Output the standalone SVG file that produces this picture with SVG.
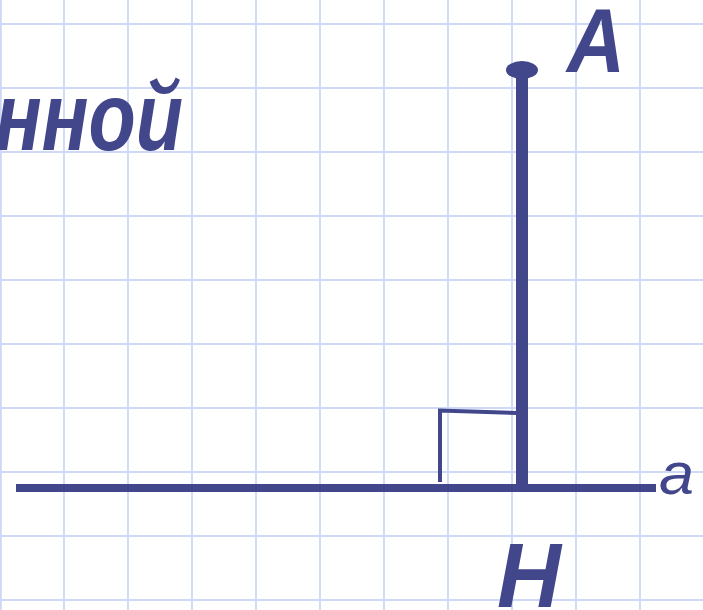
<svg xmlns="http://www.w3.org/2000/svg" width="703" height="610" viewBox="0 0 703 610">
<style>
.grid line{stroke:#cdd9f6;stroke-width:1.8}
.ink{fill:#42468a}
.lbl{font-family:"Liberation Sans",Arial,sans-serif;fill:#42468a}
</style>
<rect width="703" height="610" fill="#ffffff"/>
<g class="grid">
<line x1="0.9" y1="0" x2="0.9" y2="610"/>
<line x1="64" y1="0" x2="64" y2="610"/>
<line x1="128" y1="0" x2="128" y2="610"/>
<line x1="192" y1="0" x2="192" y2="610"/>
<line x1="256" y1="0" x2="256" y2="610"/>
<line x1="320" y1="0" x2="320" y2="610"/>
<line x1="384" y1="0" x2="384" y2="610"/>
<line x1="448" y1="0" x2="448" y2="610"/>
<line x1="512" y1="0" x2="512" y2="610"/>
<line x1="576" y1="0" x2="576" y2="610"/>
<line x1="640" y1="0" x2="640" y2="610"/>
<line x1="0" y1="24" x2="703" y2="24"/>
<line x1="0" y1="88" x2="703" y2="88"/>
<line x1="0" y1="152" x2="703" y2="152"/>
<line x1="0" y1="216" x2="703" y2="216"/>
<line x1="0" y1="280" x2="703" y2="280"/>
<line x1="0" y1="344" x2="703" y2="344"/>
<line x1="0" y1="408" x2="703" y2="408"/>
<line x1="0" y1="472" x2="703" y2="472"/>
<line x1="0" y1="536" x2="703" y2="536"/>
<line x1="0" y1="600" x2="703" y2="600"/>
</g>
<g id="title">
<text class="lbl" x="183" y="150" font-size="96" font-weight="bold" font-style="italic" text-anchor="end" textLength="188" lengthAdjust="spacingAndGlyphs">нной</text>
</g>
<g id="connectors">
<line id="line-a" x1="16" y1="488" x2="656" y2="488" stroke="#42468a" stroke-width="8"/>
<line id="perp" x1="522" y1="70" x2="522" y2="488" stroke="#42468a" stroke-width="12"/>
<polyline id="right-angle" points="440,482 440,410.5 518,413" fill="none" stroke="#42468a" stroke-width="4"/>
</g>
<g id="point-A">
<ellipse class="ink" cx="522" cy="70" rx="16" ry="9"/>
<text class="lbl" x="567" y="72" font-size="90" font-weight="bold" font-style="italic" textLength="58" lengthAdjust="spacingAndGlyphs">A</text>
</g>
<g id="point-H">
<text class="lbl" x="497" y="607" font-size="90" font-weight="bold" font-style="italic" textLength="64" lengthAdjust="spacingAndGlyphs">H</text>
</g>
<g id="label-a">
<text class="lbl" x="659" y="494" font-size="60" font-style="italic" textLength="35" lengthAdjust="spacingAndGlyphs">a</text>
</g>
</svg>
